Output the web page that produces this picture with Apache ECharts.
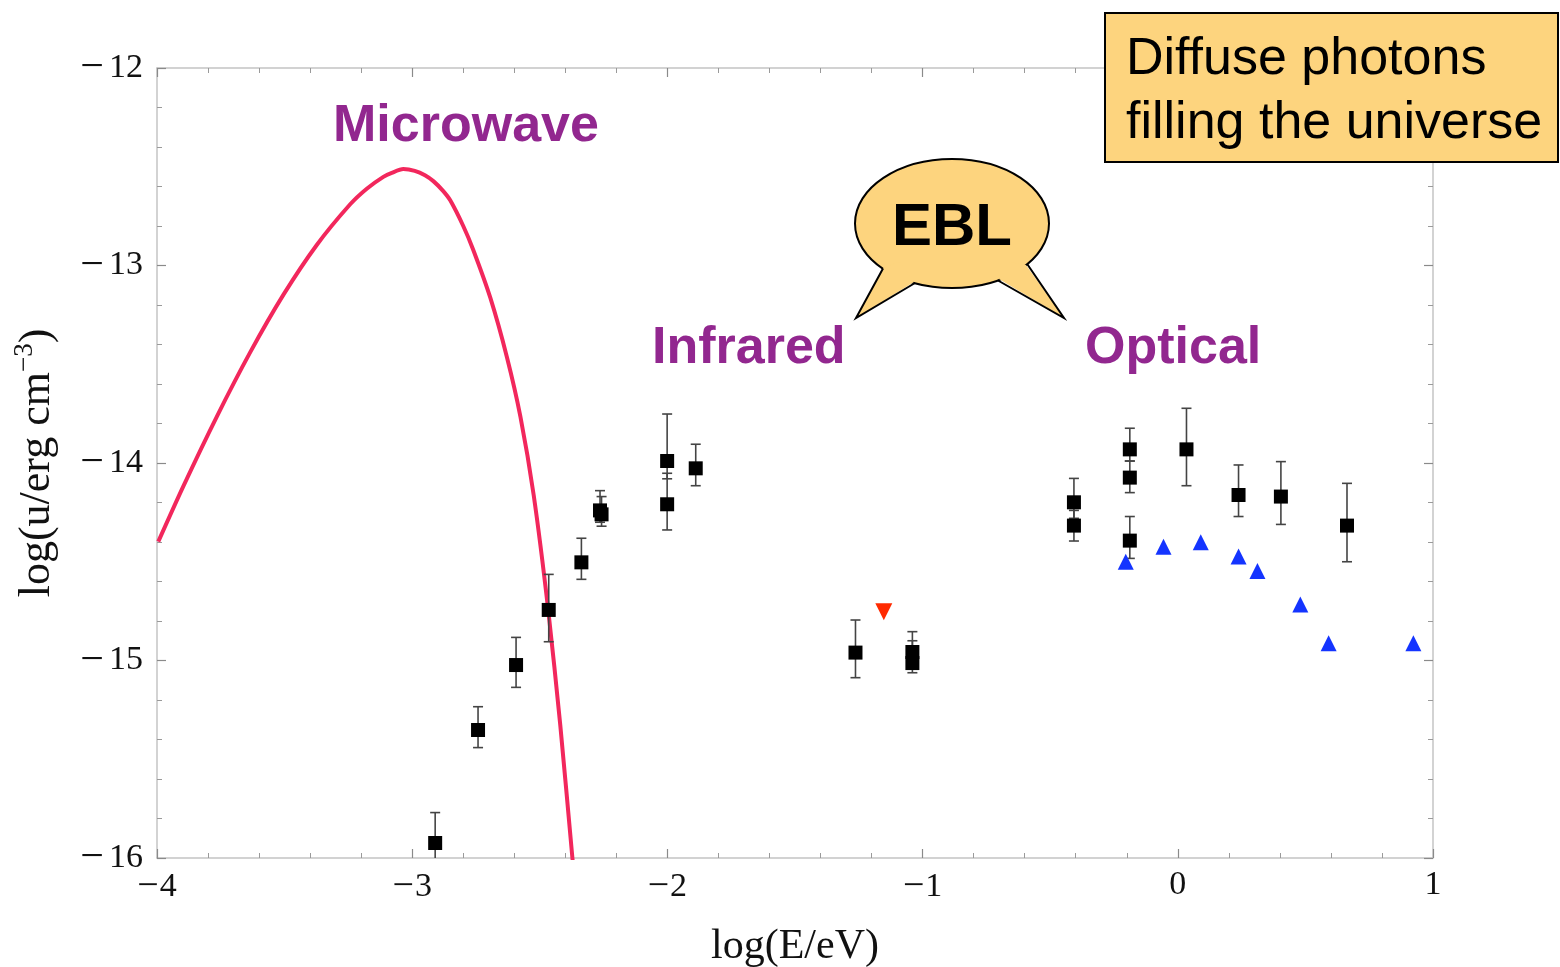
<!DOCTYPE html>
<html>
<head>
<meta charset="utf-8">
<script src="https://cdn.jsdelivr.net/npm/echarts@6/dist/echarts.min.js"></script>
<style>
html,body{margin:0;padding:0;background:#fff;}
#chart{width:1560px;height:967px;}
</style>
</head>
<body>
<div id="chart"></div>
<script>
// ---- data ----
var xTicks = [-4, -3, -2, -1, 0, 1];
var yTicks = [-16, -15, -14, -13, -12];

// CMB (microwave) curve
var cmbX = [-3.995, -3.897, -3.766, -3.635, -3.505, -3.374, -3.243, -3.178, -3.113, -3.08, -3.035, -2.99, -2.95, -2.916, -2.88, -2.851, -2.80, -2.761, -2.694, -2.629, -2.576, -2.524, -2.467, -2.420, -2.374, -2.36];
var cmbY = [-14.398, -14.118, -13.766, -13.440, -13.149, -12.896, -12.690, -12.611, -12.551, -12.531, -12.512, -12.521, -12.543, -12.574, -12.621, -12.670, -12.800, -12.920, -13.163, -13.463, -13.765, -14.162, -14.744, -15.324, -15.975, -16.17];

// black squares with error bars
var sqX  = [-2.910, -2.742, -2.593, -2.465, -2.337, -2.264, -2.258, -2.001, -2.001, -1.889, -1.263, -1.040, -1.040, -0.407, -0.407, -0.188, -0.188, -0.188, 0.034, 0.238, 0.404, 0.663];
var sqY  = [-15.924, -15.352, -15.023, -14.744, -14.503, -14.24, -14.26, -13.990, -14.209, -14.027, -14.960, -14.957, -15.013, -14.199, -14.317, -13.931, -14.074, -14.393, -13.931, -14.162, -14.170, -14.317];
var sqHi = [-15.77, -15.234, -14.883, -14.564, -14.381, -14.14, -14.17, -13.752, -14.052, -13.905, -14.795, -14.854, -14.90, -14.078, -14.24, -13.824, -13.99, -14.271, -13.723, -14.010, -13.993, -14.103];
var sqLo = [-16.08, -15.441, -15.136, -14.905, -14.589, -14.30, -14.32, -14.08, -14.339, -14.115, -15.087, -15.04, -15.062, -14.28, -14.395, -13.99, -14.150, -14.483, -14.115, -14.271, -14.311, -14.500];

// blue triangles
var triX = [-0.204, -0.056, 0.090, 0.238, 0.312, 0.480, 0.591, 0.923];
var triY = [-14.500, -14.424, -14.401, -14.474, -14.547, -14.716, -14.913, -14.913];

// red upper limit (down triangle)
var redX = [-1.152];
var redY = [-14.753];

// ---- build ----
function zip(a, b) { return a.map(function (v, i) { return [v, b[i]]; }); }

var chart = echarts.init(document.getElementById('chart'), null, { renderer: 'canvas' });

var serif = 'Liberation Serif, Times New Roman, serif';
var sans = 'Liberation Sans, Arial, Helvetica, sans-serif';
var frameLine = { show: true, onZero: false, lineStyle: { color: '#c4c4c4', width: 1.5 } };
var tick = { show: true, inside: true, length: 9, lineStyle: { color: '#8a8a8a', width: 1.2 } };
var mtick = { show: true, splitNumber: 5, length: 5, lineStyle: { color: '#9a9a9a', width: 1 } };

function tickLabel(v) {
  if (v < 0) return '{m|\u2212}{n|' + Math.abs(v) + '}';
  return '{n|' + v + '}';
}
var labelRich = {
  m: { fontFamily: serif, fontSize: 42, color: '#111', padding: [0, 5, 0, 0] },
  n: { fontFamily: serif, fontSize: 34, color: '#111' }
};
var labelRichX = {
  m: { fontFamily: serif, fontSize: 38, color: '#111', padding: [0, 1, 0, 0] },
  n: { fontFamily: serif, fontSize: 34, color: '#111' }
};

var errData = sqX.map(function (x, i) { return [x, sqY[i], sqLo[i], sqHi[i]]; });

var option = {
  animation: false,
  backgroundColor: '#ffffff',
  grid: { left: 157, right: 127, top: 68, bottom: 109, containLabel: false, outerBoundsMode: 'none' },
  xAxis: [{
    type: 'value', min: -4, max: 1, interval: 1, position: 'bottom',
    axisLine: frameLine, axisTick: tick, minorTick: mtick, splitLine: { show: false },
    axisLabel: { margin: 10, formatter: tickLabel, rich: labelRichX },
    name: 'log(E/eV)', nameLocation: 'middle', nameGap: 68,
    nameTextStyle: { fontFamily: serif, fontSize: 42, color: '#111' }
  }, {
    type: 'value', min: -4, max: 1, interval: 1, position: 'top',
    axisLine: frameLine, axisTick: tick, minorTick: mtick, splitLine: { show: false },
    axisLabel: { show: false }
  }],
  yAxis: [{
    type: 'value', min: -16, max: -12, interval: 1, position: 'left',
    axisLine: frameLine, axisTick: tick, minorTick: mtick, splitLine: { show: false },
    axisLabel: { margin: 14, formatter: tickLabel, rich: labelRich },
    name: '{a|log(u/erg cm}{s|\u22123}{a|)}', nameLocation: 'middle', nameGap: 94, nameRotate: 90,
    nameTextStyle: { fontFamily: serif, fontSize: 44, color: '#111',
      rich: { a: { fontFamily: serif, fontSize: 44, color: '#111' },
              s: { fontFamily: serif, fontSize: 27, color: '#111', padding: [0, 0, 25, 0] } } }
  }, {
    type: 'value', min: -16, max: -12, interval: 1, position: 'right',
    axisLine: frameLine, axisTick: tick, minorTick: mtick, splitLine: { show: false },
    axisLabel: { show: false }
  }],
  series: [{
    name: 'CMB', type: 'line', data: zip(cmbX, cmbY), smooth: 0.25, showSymbol: false,
    lineStyle: { color: '#F2275C', width: 4 }, clip: true, z: 2
  }, {
    name: 'errors', type: 'custom', data: errData, clip: true, z: 3,
    renderItem: function (params, api) {
      var x = api.value(0);
      var lo = api.coord([x, api.value(2)]);
      var hi = api.coord([x, api.value(3)]);
      var w = 5;
      var st = { stroke: '#444', lineWidth: 1.6 };
      return { type: 'group', children: [
        { type: 'line', shape: { x1: lo[0], y1: lo[1], x2: hi[0], y2: hi[1] }, style: st },
        { type: 'line', shape: { x1: lo[0] - w, y1: lo[1], x2: lo[0] + w, y2: lo[1] }, style: st },
        { type: 'line', shape: { x1: hi[0] - w, y1: hi[1], x2: hi[0] + w, y2: hi[1] }, style: st }
      ] };
    }
  }, {
    name: 'squares', type: 'scatter', data: zip(sqX, sqY), symbol: 'rect', symbolSize: 14,
    itemStyle: { color: '#000', opacity: 1 }, z: 4
  }, {
    name: 'triangles', type: 'scatter', data: zip(triX, triY), symbol: 'triangle', symbolSize: 16,
    itemStyle: { color: '#1434FF', opacity: 1 }, z: 4
  }, {
    name: 'limit', type: 'scatter', data: zip(redX, redY), symbol: 'triangle', symbolRotate: 180, symbolSize: 17,
    itemStyle: { color: '#FF2A00', opacity: 1 }, z: 4
  }],
  graphic: [
    { type: 'text', left: 333, top: 101, style: { text: 'Microwave', font: 'bold 52px ' + sans, fill: '#92278F' }, z: 10 },
    { type: 'text', left: 652, top: 323, style: { text: 'Infrared', font: 'bold 52px ' + sans, fill: '#92278F' }, z: 10 },
    { type: 'text', left: 1085, top: 323, style: { text: 'Optical', font: 'bold 52px ' + sans, fill: '#92278F' }, z: 10 },
    // EBL speech bubble
    { type: 'ellipse', shape: { cx: 952, cy: 223.5, rx: 97, ry: 64.5 }, style: { fill: '#FDD47E', stroke: '#000', lineWidth: 2 }, z: 10 },
    { type: 'polygon', shape: { points: [[884, 267], [856, 318], [914, 282], [900, 262]] }, style: { fill: '#FDD47E' }, z: 11 },
    { type: 'polygon', shape: { points: [[999, 279], [1064, 318], [1026, 265], [1010, 262]] }, style: { fill: '#FDD47E' }, z: 11 },
    { type: 'polyline', shape: { points: [[883, 268.5], [856, 318], [915, 283]] }, style: { stroke: '#000', lineWidth: 2, fill: null }, z: 12 },
    { type: 'polyline', shape: { points: [[998, 280.5], [1064, 318], [1027.5, 264.5]] }, style: { stroke: '#000', lineWidth: 2, fill: null }, z: 12 },
    { type: 'text', x: 952, y: 228, style: { text: 'EBL', font: 'bold 60px ' + sans, fill: '#000', textAlign: 'center', textVerticalAlign: 'middle' }, z: 13 },
    // info box
    { type: 'rect', shape: { x: 1105, y: 13, width: 453, height: 149 }, style: { fill: '#FDD47E', stroke: '#000', lineWidth: 2 }, z: 14 },
    { type: 'text', left: 1126, top: 28, style: { text: 'Diffuse photons\nfilling the universe', font: '52px ' + sans, lineHeight: 64, fill: '#000' }, z: 15 }
  ]
};
chart.setOption(option);
</script>
</body>
</html>
